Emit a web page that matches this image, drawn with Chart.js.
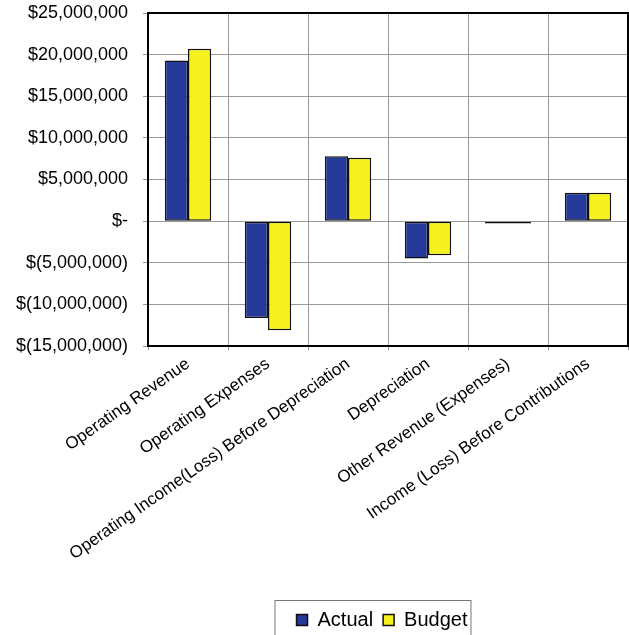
<!DOCTYPE html>
<html>
<head>
<meta charset="utf-8">
<script src="https://cdn.jsdelivr.net/npm/chart.js@4"></script>
<style>
  html, body { margin: 0; padding: 0; background: #fff; }
  #wrap { width: 629px; height: 635px; }
</style>
</head>
<body>
<div id="wrap"><canvas id="chart"></canvas></div>
<script>
const categories = [
    'Operating Revenue',
    'Operating Expenses',
    'Operating Income(Loss) Before Depreciation',
    'Depreciation',
    'Other Revenue (Expenses)',
    'Income (Loss) Before Contributions'
];
const actualValues = [19300000, -11650000, 7800000, -4500000, -280000, 3400000];
const budgetValues = [20700000, -13100000, 7600000, -4100000, -300000, 3400000];
const yTicks = [25000000, 20000000, 15000000, 10000000, 5000000, 0, -5000000, -10000000, -15000000];

function money(v) {
    if (v === 0) return '$-';
    const s = Math.abs(v).toLocaleString('en-US');
    return v < 0 ? '$(' + s + ')' : '$' + s;
}

// thick black frame round the plot area
const frame = {
    id: 'frame',
    afterDraw(chart) {
        const { ctx, chartArea: a } = chart;
        ctx.save();
        ctx.strokeStyle = '#000';
        ctx.lineWidth = 2;
        ctx.strokeRect(a.left, a.top, a.right - a.left, a.bottom - a.top);
        ctx.restore();
    }
};

// legend sits right of centre in the original, lower down, with a box round it
const legendBox = {
    id: 'legendBox',
    afterLayout(chart) {
        const lg = chart.legend;
        const dx = 68;
        lg.left += dx;
        lg.right += dx;
        const h = lg.bottom - lg.top;
        lg.top = 600;
        lg.bottom = 600 + h;
    },
    afterDraw(chart) {
        const boxes = chart.legend.legendHitBoxes;
        if (!boxes || !boxes.length) return;
        const left = Math.min(...boxes.map(b => b.left)) - 22;
        const right = Math.max(...boxes.map(b => b.left + b.width)) + 3;
        const top = chart.legend.top;
        const ctx = chart.ctx;
        ctx.save();
        ctx.strokeStyle = '#777';
        ctx.lineWidth = 1;
        ctx.strokeRect(left + 0.5, top + 0.5, right - left, 60);
        ctx.restore();
    }
};

const ctx = document.getElementById('chart').getContext('2d');
new Chart(ctx, {
    type: 'bar',
    data: {
        labels: categories,
        datasets: [
            {
                label: 'Actual',
                data: actualValues,
                backgroundColor: '#24399a',
                borderColor: '#111',
                borderWidth: 1.5,
                borderSkipped: false
            },
            {
                label: 'Budget',
                data: budgetValues,
                backgroundColor: '#f6f01e',
                borderColor: '#111',
                borderWidth: 1.5,
                borderSkipped: false
            }
        ]
    },
    options: {
        animation: false,
        responsive: true,
        maintainAspectRatio: false,
        datasets: { bar: { categoryPercentage: 0.58, barPercentage: 1 } },
        layout: { padding: { top: 13, right: 1, left: 0, bottom: 0 } },
        plugins: {
            tooltip: { enabled: false },
            legend: {
                position: 'bottom',
                labels: {
                    color: '#000',
                    font: { family: 'Liberation Sans', size: 20 },
                    boxWidth: 11,
                    boxHeight: 11,
                    padding: 10,
                    useBorderRadius: false
                }
            }
        },
        scales: {
            x: {
                grid: { color: '#999', lineWidth: 1, tickLength: 4 },
                border: { display: false },
                ticks: {
                    color: '#000',
                    font: { family: 'Liberation Sans', size: 17 },
                    minRotation: 35,
                    maxRotation: 35,
                    autoSkip: false,
                    padding: 4
                },
                afterFit(s) { s.height = 249; }
            },
            y: {
                min: -15000000,
                max: 25000000,
                afterBuildTicks(s) { s.ticks = yTicks.map(v => ({ value: v })); },
                grid: { color: '#999', lineWidth: 1, tickLength: 5 },
                border: { display: false },
                ticks: {
                    color: '#000',
                    font: { family: 'Liberation Sans', size: 18 },
                    padding: 15,
                    callback: v => money(v)
                },
                afterFit(s) {
                    s.width = 148;
                    s.paddingTop = 0;
                    s.paddingBottom = 0;
                }
            }
        }
    },
    plugins: [frame, legendBox]
});
</script>
</body>
</html>
